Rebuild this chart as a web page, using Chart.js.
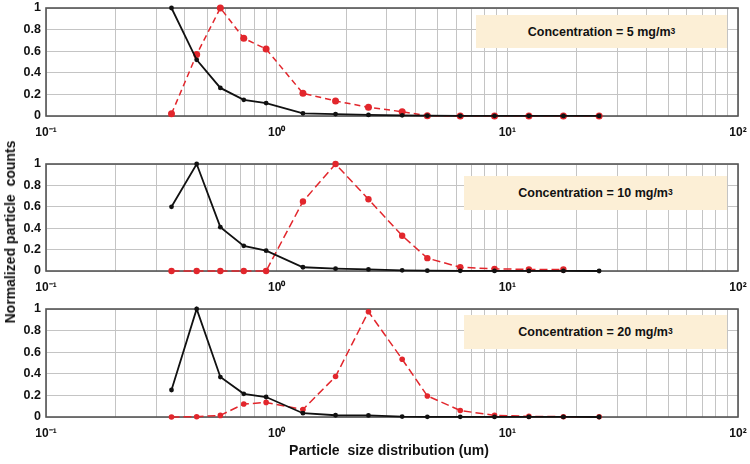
<!DOCTYPE html>
<html>
<head>
<meta charset="utf-8">
<script src="https://cdn.jsdelivr.net/npm/chart.js@4"></script>
<style>
  body { margin: 0; background: #fff; }
  #wrap { position: relative; width: 750px; height: 464px; font-family: Arial, "Liberation Sans", sans-serif; }
  #wrap canvas { position: absolute; left: 0; top: 0; }
  .note {
    position: absolute; left: 464px; width: 263px; height: 34px;
    background: #fcefd6; color: #111; font-weight: bold; font-size: 12.5px;
    display: flex; align-items: center; justify-content: center;
  }
  .note sup { font-size: 8.5px; position: relative; top: -1px; }
  #ytitle {
    position: absolute; left: 10px; top: 232px; transform: translate(-50%, -50%) rotate(-90deg);
    font-weight: bold; font-size: 14px; white-space: pre; color: #111;
  }
  #xtitle {
    position: absolute; left: 389px; top: 450px; transform: translate(-50%, -50%);
    font-weight: bold; font-size: 14px; white-space: pre; color: #111;
  }
</style>
</head>
<body>
<div id="wrap">
  <canvas id="c0" width="750" height="464"></canvas>
  <canvas id="c1" width="750" height="464"></canvas>
  <canvas id="c2" width="750" height="464"></canvas>
  <div class="note" id="n0" style="left:476px;width:251px;top:15px;height:33px"></div>
  <div class="note" id="n1" style="top:176px"></div>
  <div class="note" id="n2" style="top:315px"></div>
  <div id="ytitle">Normalized particle  counts</div>
  <div id="xtitle">Particle  size distribution (um)</div>
</div>
<script>
// particle size channels (um)
const sizes = [0.35, 0.45, 0.57, 0.72, 0.9, 1.3, 1.8, 2.5, 3.5, 4.5, 6.25, 8.8, 12.4, 17.5, 25];

// black solid series
const black5  = [1.0, 0.52, 0.26, 0.15, 0.12, 0.025, 0.018, 0.01, 0.006, 0.003, 0.002, 0.002, 0.002, 0.001, 0.001];
const black10 = [0.6, 1.0, 0.41, 0.235, 0.19, 0.035, 0.022, 0.015, 0.006, 0.003, 0.002, 0.001, 0.001, 0.001, 0.0];
const black20 = [0.25, 1.0, 0.37, 0.215, 0.185, 0.035, 0.016, 0.015, 0.004, 0.002, 0.002, 0.001, 0.001, 0.001, 0.0];

// red dashed series
const red5  = [0.02, 0.57, 1.0, 0.72, 0.62, 0.21, 0.14, 0.08, 0.04, 0.003, 0.0, 0.0, 0.0, 0.0, 0.0];
const red10 = [0.0, 0.0, 0.0, 0.0, 0.0, 0.65, 1.0, 0.67, 0.33, 0.12, 0.035, 0.02, 0.015, 0.015];
const red20 = [0.0, 0.003, 0.015, 0.12, 0.135, 0.07, 0.375, 0.975, 0.535, 0.195, 0.06, 0.015, 0.006, 0.003, 0.003];

const concentrations = ['5', '10', '20'];
const yTicks = [0, 0.2, 0.4, 0.6, 0.8, 1];
const decades = [-1, 0, 1, 2];
const supers = { '-': '\u207B', '0': '\u2070', '1': '\u00B9', '2': '\u00B2' };

const panels = [
  { black: black5, red: red5, top: 8, bottom: 116, dash: [6, 4], redRadius: 3.5 },
  { black: black10, red: red10, top: 164, bottom: 271, dash: [8, 4], redRadius: 3.2 },
  { black: black20, red: red20, top: 309, bottom: 417, dash: [8, 4], redRadius: 2.8 }
];

let toPoints = (vals) => vals.map((v, i) => ({ x: sizes[i], y: v }));

let logTicks = () => {
  let out = [];
  for (let e = decades[0]; e < decades[decades.length - 1]; e++) {
    for (let m = 1; m <= 9; m++) out.push({ value: Number((m * Math.pow(10, e)).toPrecision(3)) });
  }
  out.push({ value: Math.pow(10, decades[decades.length - 1]) });
  return out;
};

let isDecade = (v) => Math.abs(Math.log10(v) - Math.round(Math.log10(v))) < 1e-9;

let decadeLabel = (v) => {
  let e = String(Math.round(Math.log10(v)));
  return '10' + e.split('').map(c => supers[c]).join('');
};

// label overflow must not move the plot box
let noOverflow = (s) => {
  s.paddingLeft = 0; s.paddingRight = 0; s.paddingTop = 0; s.paddingBottom = 0;
};

const frame = {
  id: 'frame',
  beforeDatasetsDraw(chart) {
    const a = chart.chartArea, ctx = chart.ctx;
    ctx.save();
    ctx.strokeStyle = '#555';
    ctx.lineWidth = 1.6;
    ctx.strokeRect(a.left, a.top, a.right - a.left, a.bottom - a.top);
    ctx.restore();
  }
};

panels.forEach((p, i) => {
  document.getElementById('n' + i).innerHTML = 'Concentration = ' + concentrations[i] + ' mg/m<sup>3</sup>';

  new Chart(document.getElementById('c' + i), {
    type: 'line',
    data: {
      datasets: [
        {
          data: toPoints(p.black),
          borderColor: '#111',
          backgroundColor: '#111',
          borderWidth: 1.8,
          pointRadius: 2.4,
          pointBorderWidth: 0,
          clip: false
        },
        {
          data: toPoints(p.red),
          borderColor: '#e2262c',
          backgroundColor: '#e2262c',
          borderWidth: 1.5,
          borderDash: p.dash,
          pointRadius: p.redRadius,
          pointBorderWidth: 0,
          clip: false
        }
      ]
    },
    options: {
      responsive: false,
      animation: false,
      events: [],
      layout: { padding: { top: p.top, bottom: 464 - p.bottom - 22, left: 0, right: 12 } },
      plugins: { legend: { display: false }, tooltip: { enabled: false } },
      scales: {
        x: {
          type: 'logarithmic',
          min: 0.1,
          max: 100,
          afterBuildTicks: (s) => { s.ticks = logTicks(); },
          afterFit: (s) => { s.height = 22; noOverflow(s); },
          grid: { color: '#c4c4c4', lineWidth: 1, drawTicks: false },
          border: { display: false },
          ticks: {
            autoSkip: false,
            maxRotation: 0,
            padding: 9,
            color: '#111',
            font: { family: 'Arial', weight: 'bold', size: 12 },
            callback: (v) => isDecade(v) ? decadeLabel(v) : ''
          }
        },
        y: {
          min: 0,
          max: 1,
          afterBuildTicks: (s) => { s.ticks = yTicks.map(v => ({ value: v })); },
          afterFit: (s) => { s.width = 46; noOverflow(s); },
          grid: { color: '#c4c4c4', lineWidth: 1, drawTicks: false },
          border: { display: false },
          ticks: {
            padding: 5,
            color: '#111',
            font: { family: 'Arial', weight: 'bold', size: 12.5 },
            callback: (v) => String(Number(v.toFixed(1)))
          }
        }
      }
    },
    plugins: [frame]
  });
});
</script>
</body>
</html>
